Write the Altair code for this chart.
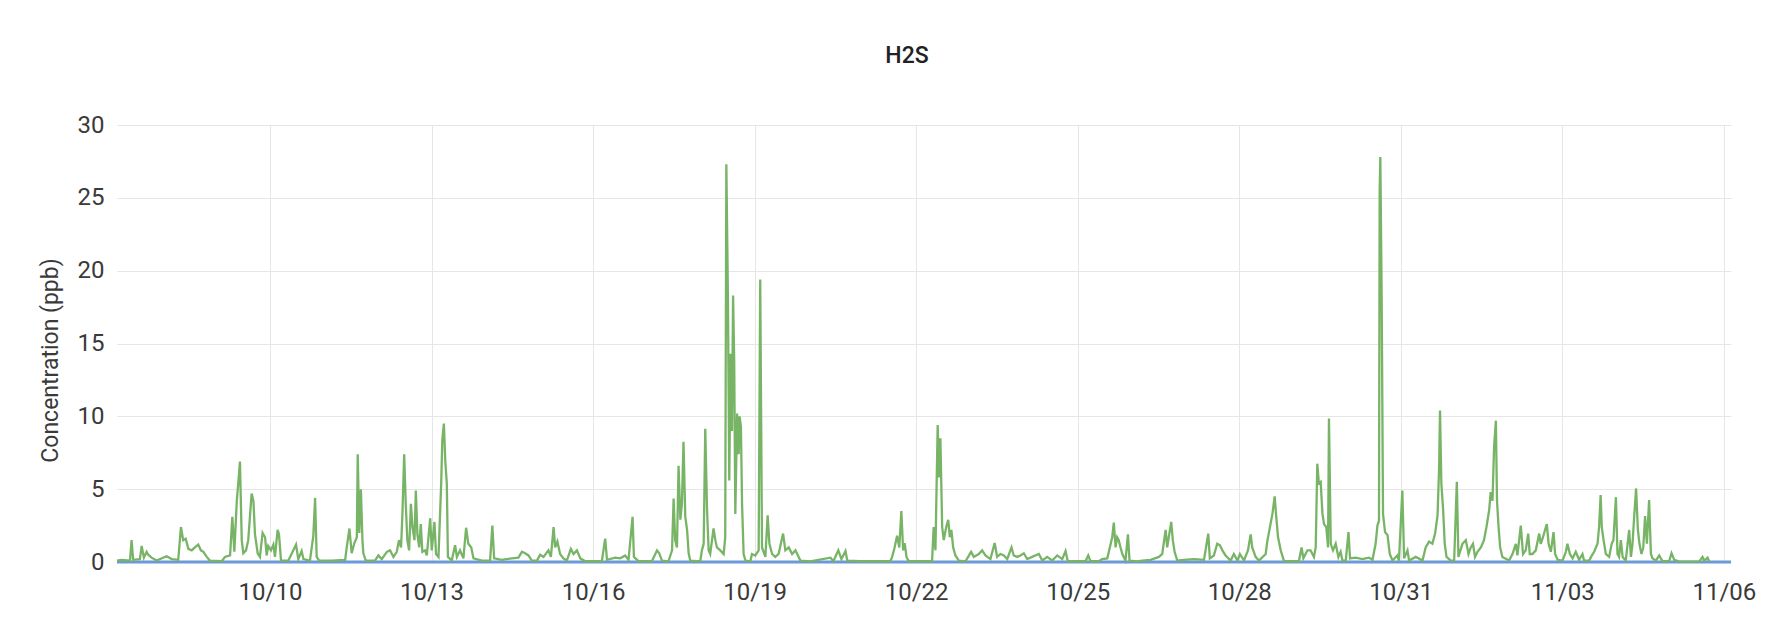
import altair as alt
import pandas as pd

# ---- data (hours since 2019-10-07 00:00, H2S in ppb) ----
h2s_hours = [
    3.8, 5.9, 9.6, 10.3, 11.0, 14.0, 14.8, 15.8, 17.0, 17.7, 19.2, 21.5, 25.9, 28.2, 31.1, 32.3,
    33.3, 34.4, 35.6, 37.1, 38.5, 40.0, 41.2, 42.3, 43.8, 45.2, 50.5, 51.9, 54.2, 55.2, 56.1, 57.2,
    57.9, 58.6, 59.4, 60.1, 61.3, 62.3, 63.8, 64.6, 65.3, 66.5, 67.5, 68.7, 69.8, 70.5, 71.2, 72.4,
    73.5, 74.2, 75.4, 76.0, 76.9, 80.2, 83.6, 84.6, 86.1, 86.9, 89.8, 91.3, 92.1, 92.8, 93.9, 99.5,
    105.5, 106.2, 107.4, 108.4, 109.6, 110.7, 111.1, 111.8, 112.5, 113.2, 113.6, 114.7, 118.8, 120.3,
    121.8, 124.1, 125.5, 127.0, 128.5, 129.5, 130.4, 131.0, 131.8, 132.5, 133.2, 134.0, 134.8, 135.5,
    136.4, 137.0, 137.7, 138.5, 139.2, 139.9, 141.1, 141.9, 143.4, 144.1, 145.3, 146.0, 147.1, 148.3,
    148.8, 149.5, 150.1, 150.8, 151.3, 153.0, 154.5, 155.3, 156.7, 158.2, 159.4, 160.4, 161.7, 162.7,
    166.4, 170.1, 171.1, 171.9, 175.3, 179.8, 182.7, 184.3, 185.7, 187.2, 188.7, 191.0, 192.4, 193.9,
    196.1, 197.2, 198.4, 199.1, 200.1, 201.3, 202.8, 204.3, 206.1, 207.3, 208.8, 210.3, 212.5, 219.9,
    221.4, 222.2, 225.9, 228.1, 230.3, 231.8, 233.6, 234.2, 236.3, 242.2, 244.5, 245.5, 246.7, 249.6,
    251.2, 251.9, 252.6, 253.4, 254.1, 254.9, 255.6, 256.3, 257.1, 257.9, 258.6, 259.3, 263.8, 264.5,
    265.3, 266.0, 266.8, 267.5, 268.2, 269.7, 270.5, 271.2, 272.7, 274.2, 274.9, 275.4, 276.1, 276.7,
    277.3, 277.9, 278.4, 278.9, 279.4, 280.2, 280.9, 281.3, 281.9, 282.4, 283.1, 283.9, 286.1, 286.8,
    288.3, 289.8, 290.5, 291.3, 292.8, 293.8, 294.6, 295.8, 297.2, 298.7, 300.7, 301.7, 303.2, 304.7,
    306.2, 308.4, 312.8, 321.8, 323.1, 325.3, 326.7, 328.5, 329.3, 335.1, 348.5, 349.3, 350.4, 351.5,
    352.5, 353.4, 354.2, 354.9, 355.7, 356.7, 367.1, 367.8, 368.6, 369.6, 370.2, 370.8, 371.6, 372.3,
    373.4, 374.3, 375.0, 375.7, 376.5, 377.5, 379.0, 382.0, 384.5, 385.7, 387.9, 389.4, 390.9, 393.1,
    395.0, 396.1, 397.6, 399.1, 400.6, 402.5, 403.5, 405.0, 406.5, 408.0, 409.5, 411.7, 414.7, 416.2,
    418.4, 420.6, 422.9, 425.1, 426.6, 427.6, 435.5, 436.7, 437.7, 441.4, 442.9, 445.2, 447.4, 448.1,
    448.9, 449.6, 450.3, 451.1, 451.9, 453.3, 454.4, 455.1, 458.5, 460.8, 464.5, 468.2, 469.7, 471.2,
    471.9, 472.6, 473.7, 474.4, 475.2, 476.4, 479.3, 483.8, 488.3, 490.2, 490.9, 492.7, 494.2, 495.4,
    496.5, 497.9, 500.2, 501.6, 503.2, 504.3, 506.1, 507.9, 509.1, 509.8, 511.3, 512.8, 515.8, 516.5,
    517.7, 518.8, 519.8, 520.4, 521.3, 522.5, 523.9, 524.7, 530.6, 531.8, 532.6, 534.4, 535.8, 537.3,
    538.1, 538.8, 539.5, 540.3, 541.1, 541.8, 542.8, 543.6, 544.0, 544.8, 545.8, 547.0, 548.2, 549.2,
    550.0, 551.5, 552.7, 553.4, 555.9, 558.9, 561.8, 563.4, 564.8, 565.6, 566.3, 566.6, 566.9, 567.5,
    568.1, 569.0, 570.1, 571.1, 572.3, 574.5, 575.2, 576.7, 577.5, 579.0, 579.7, 582.7, 585.7, 587.1,
    588.6, 590.1, 591.3, 592.4, 593.1, 593.5, 594.1, 594.9, 595.6, 596.4, 598.3, 599.8, 601.0, 601.7,
    603.5, 605.0, 606.2, 607.2, 608.2, 609.1, 610.2, 611.7, 613.1, 614.2, 615.4, 616.1, 616.9, 617.6,
    618.4, 618.9, 619.6, 620.3, 621.3, 624.3, 625.8, 627.3, 628.0, 629.5, 630.5, 631.7, 632.8, 633.5,
    634.7, 636.2, 637.7, 638.4, 639.4, 640.3, 641.1, 641.9, 642.9, 644.1, 644.8, 645.9, 648.1, 649.6,
    650.3, 651.4, 652.6, 654.0, 655.5, 657.0, 657.7, 660.0, 661.2, 662.2, 663.7, 664.4, 665.1, 665.6,
    666.4, 667.4, 668.9, 670.0, 670.8, 671.9, 672.6, 673.3, 674.1, 674.9, 676.3, 677.8, 678.6, 679.3,
    680.0, 680.9, 681.7, 682.4, 683.3, 684.1, 684.9, 685.7, 686.7, 687.5, 688.2, 689.7, 691.2, 692.7,
    695.6, 696.7, 697.9, 700.1, 709.0, 710.5, 711.3, 712.8, 713.5,
]
h2s_ppb = [
    0.1, 0.15, 0.1, 1.5, 0.15, 0.2, 1.1, 0.3, 0.7, 0.5, 0.3, 0.1, 0.4, 0.2, 0.15, 2.4,
    1.5, 1.6, 0.9, 0.8, 1.0, 1.2, 0.8, 0.7, 0.35, 0.1, 0.05, 0.35, 0.45, 3.1, 0.7, 4.2,
    5.5, 6.9, 1.5, 0.6, 0.8, 1.5, 4.7, 4.2, 1.9, 0.6, 0.35, 2.0, 1.7, 0.45, 1.1, 0.8,
    1.2, 0.35, 2.2, 1.9, 0.1, 0.1, 1.2, 0.2, 0.75, 0.2, 0.1, 1.8, 4.4, 0.35, 0.1, 0.1,
    0.15, 1.0, 2.3, 0.6, 1.3, 1.7, 7.4, 2.0, 5.0, 1.5, 0.6, 0.1, 0.1, 0.45,
    0.2, 0.7, 0.8, 0.35, 0.7, 1.5, 1.0, 3.2, 7.4, 4.0, 1.5, 0.8, 4.0, 2.4,
    1.5, 4.9, 1.9, 1.0, 2.6, 0.7, 0.8, 0.45, 3.0, 0.8, 2.75, 0.55, 0.35, 5.4,
    8.4, 9.5, 7.0, 5.4, 0.35, 0.1, 1.15, 0.35, 0.8, 0.25, 2.35, 1.25, 1.0, 0.25,
    0.1, 0.1, 2.5, 0.25, 0.15, 0.25, 0.3, 0.7, 0.6, 0.45, 0.1, 0.1, 0.5, 0.35,
    0.8, 0.35, 2.4, 1.0, 1.4, 0.55, 0.25, 0.1, 0.9, 0.55, 0.8, 0.25, 0.05, 0.05,
    1.6, 0.15, 0.3, 0.25, 0.45, 0.15, 3.1, 0.35, 0.05, 0.05, 0.8, 0.6, 0.1, 0.05,
    0.8, 4.35, 1.5, 1.0, 6.6, 2.9, 4.0, 8.25, 3.1, 2.2, 0.6, 0.1, 0.05, 0.8,
    1.25, 9.15, 3.55, 0.8, 0.55, 2.3, 1.5, 1.0, 0.8, 0.55, 1.7, 27.3, 18.2, 5.6,
    14.3, 9.0, 18.3, 13.9, 3.3, 10.2, 7.4, 10.0, 9.3, 4.0, 0.55, 0.1, 0.05, 0.55,
    0.45, 0.8, 19.4, 1.0, 0.35, 3.2, 1.25, 0.55, 0.35, 0.55, 1.95, 0.8, 1.0, 0.55,
    0.8, 0.1, 0.05, 0.3, 0.05, 0.8, 0.2, 0.75, 0.1, 0.05, 0.05, 0.35, 1.0, 1.8,
    1.0, 3.5, 0.8, 1.3, 0.35, 0.05, 0.05, 2.4, 0.8, 9.4, 5.8, 8.5, 2.4, 1.5,
    2.4, 2.9, 1.7, 2.2, 1.0, 0.45, 0.1, 0.05, 0.7, 0.35, 0.55, 0.8, 0.45, 0.2,
    1.3, 0.35, 0.55, 0.45, 0.2, 1.0, 0.45, 0.35, 0.45, 0.6, 0.2, 0.35, 0.55, 0.1,
    0.35, 0.1, 0.45, 0.2, 0.75, 0.05, 0.05, 0.45, 0.05, 0.05, 0.2, 0.25, 1.7, 2.7,
    1.0, 1.7, 1.5, 1.0, 0.55, 0.1, 1.9, 0.1, 0.05, 0.1, 0.15, 0.35, 0.55, 2.2,
    1.0, 1.7, 2.75, 1.5, 0.7, 0.1, 0.15, 0.2, 0.15, 1.95, 0.25, 0.45, 1.25, 1.15,
    0.8, 0.45, 0.1, 0.55, 0.1, 0.55, 0.1, 0.8, 1.9, 1.0, 0.35, 0.1, 0.55, 1.4,
    2.4, 3.3, 4.5, 3.3, 1.7, 0.8, 0.1, 0.05, 0.05, 1.0, 0.25, 0.8, 0.8, 0.35,
    1.0, 6.75, 5.4, 5.5, 3.3, 2.6, 2.4, 1.0, 9.85, 1.25, 0.8, 1.25, 0.35, 0.7,
    0.1, 0.1, 2.05, 0.25, 0.3, 0.2, 0.3, 0.15, 1.25, 2.5, 2.85, 25.5, 27.8, 18.0,
    3.3, 2.05, 1.85, 0.55, 0.1, 0.45, 0.1, 4.9, 0.25, 0.8, 0.1, 0.35, 0.1, 1.0,
    1.4, 1.25, 1.95, 3.2, 6.5, 10.4, 5.4, 3.55, 1.25, 0.35, 0.1, 0.1, 5.5, 0.35,
    1.25, 1.5, 0.55, 1.0, 1.25, 0.35, 0.7, 1.0, 1.5, 2.4, 3.55, 4.8, 4.2, 7.9,
    9.7, 4.2, 2.4, 1.0, 0.35, 0.1, 0.55, 1.25, 0.45, 2.5, 0.55, 0.8, 1.95, 0.55,
    0.55, 0.8, 1.95, 1.25, 1.7, 2.2, 2.6, 1.25, 0.7, 2.05, 0.55, 0.15, 0.1, 0.7,
    1.25, 0.55, 0.25, 0.7, 0.15, 0.55, 0.1, 0.1, 0.45, 0.7, 1.25, 2.4, 4.6, 2.4,
    1.5, 0.55, 0.35, 1.25, 1.5, 4.45, 0.55, 0.35, 1.5, 0.35, 0.1, 2.2, 0.35, 1.25,
    3.0, 5.05, 2.2, 1.25, 0.55, 1.0, 3.15, 1.25, 4.25, 0.55, 0.25, 0.1, 0.45, 0.05,
    0.05, 0.6, 0.15, 0.03, 0.03, 0.35, 0.1, 0.3, 0.03,
]

# second (flat) series along zero
base_hours = [3.8, 723.2]
base_ppb = [0.0, 0.0]

x_tick_dates = ["2019-10-10", "2019-10-13", "2019-10-16", "2019-10-19", "2019-10-22",
                "2019-10-25", "2019-10-28", "2019-10-31", "2019-11-03", "2019-11-06"]
y_ticks = [0, 5, 10, 15, 20, 25, 30]

start = pd.Timestamp("2019-10-07")
df_h2s = pd.DataFrame({"time": start + pd.to_timedelta(h2s_hours, unit="h"), "ppb": h2s_ppb})
df_base = pd.DataFrame({"time": start + pd.to_timedelta(base_hours, unit="h"), "ppb": base_ppb})

tick_vals = [alt.DateTime(year=t.year, month=t.month, date=t.day)
             for t in pd.to_datetime(x_tick_dates)]

x_enc = alt.X("time:T", title=None, scale=alt.Scale(nice=False),
              axis=alt.Axis(values=tick_vals, format="%m/%d", labelPadding=18,
                            labelFontSize=24, labelFlush=False))
y_enc = alt.Y("ppb:Q", scale=alt.Scale(domain=[0, 30], nice=False),
              axis=alt.Axis(values=y_ticks, title="Concentration (ppb)", labelPadding=13,
                            labelFontSize=24, titleFontSize=23, titleFontWeight="normal",
                            titleAngle=-90, titleX=-60, titleY=235, titleAlign="center",
                            titleBaseline="alphabetic"))

base_line = alt.Chart(df_base).mark_line(color="#6a9ad8", strokeWidth=3).encode(x=x_enc, y=y_enc)
h2s_line = alt.Chart(df_h2s).mark_line(color="#78b466", strokeWidth=2.3,
                                       strokeJoin="miter").encode(x=x_enc, y=y_enc)

chart = (
    alt.layer(base_line, h2s_line)
    .properties(
        width=1614, height=437,
        title=alt.TitleParams("H2S", fontSize=23, fontWeight=500, font="Roboto",
                              color="#222222", offset=45, dx=-17),
        padding={"left": 109, "top": 117, "right": 30, "bottom": 45},
        autosize=alt.AutoSizeParams(type="none"),
        background="white",
    )
    .configure_axis(
        domain=False, ticks=False, grid=True, gridColor="#e6e6e6", gridWidth=1,
        labelFont="Roboto", titleFont="Roboto", labelColor="#3a3a3a", titleColor="#3a3a3a",
    )
    .configure_view(stroke=None)
)

chart.save("out.html", embed_options={"renderer": "svg", "actions": False})
